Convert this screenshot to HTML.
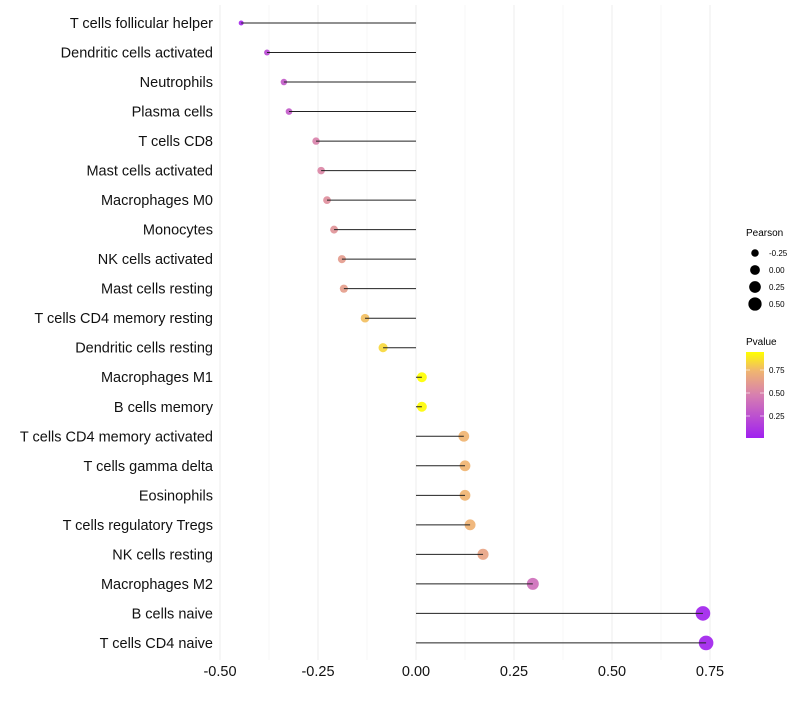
<!DOCTYPE html>
<html><head><meta charset="utf-8"><style>
body{margin:0;background:#fff}
svg text{font-family:"Liberation Sans",sans-serif}
</style></head><body>
<svg id="c" width="800" height="700">
<defs><linearGradient id="pg" x1="0" y1="1" x2="0" y2="0">
<stop offset="0" stop-color="#a020f0"/><stop offset="0.5" stop-color="#d77fb0"/><stop offset="0.78" stop-color="#f0b570"/><stop offset="1" stop-color="#ffff00"/>
</linearGradient></defs>
<g id="grid"></g><g id="marks"></g><g id="labels"></g><g id="xaxis"></g>
<g>
<text x="746" y="236" font-size="10">Pearson</text>
<g id="sizeleg"></g>
</g>
<g>
<text x="746" y="345" font-size="10">Pvalue</text>
<rect x="746" y="352" width="18" height="86" fill="url(#pg)"/>
<g id="colleg"></g>
</g>
</svg>
<script>
const categories=["T cells follicular helper","Dendritic cells activated","Neutrophils","Plasma cells","T cells CD8","Mast cells activated","Macrophages M0","Monocytes","NK cells activated","Mast cells resting","T cells CD4 memory resting","Dendritic cells resting","Macrophages M1","B cells memory","T cells CD4 memory activated","T cells gamma delta","Eosinophils","T cells regulatory  Tregs ","NK cells resting","Macrophages M2","B cells naive","T cells CD4 naive"];
const pearson=[-0.446,-0.38,-0.337,-0.324,-0.255,-0.242,-0.227,-0.209,-0.189,-0.184,-0.13,-0.084,0.015,0.015,0.122,0.125,0.125,0.138,0.171,0.298,0.732,0.74];
const pvalue=[0.05,0.22,0.3,0.3,0.5,0.52,0.56,0.58,0.62,0.63,0.77,0.84,0.95,0.94,0.74,0.74,0.74,0.73,0.66,0.4,0.03,0.03];
const xTicks=[-0.5,-0.25,0,0.25,0.5,0.75];
const xTickLabels=["-0.50","-0.25","0.00","0.25","0.50","0.75"];
const sizeLegend=[-0.25,0,0.25,0.5];
const sizeLegendLabels=["-0.25","0.00","0.25","0.50"];
const colLegend=[0.75,0.5,0.25];

const ns="http://www.w3.org/2000/svg";
const X=v=>416+v*392;
const Y=i=>23+i*29.52;
const R=v=>Math.sqrt(Math.max(2.5,24+40*v));
const PY=p=>370+(0.75-p)*92;
function col(p){
  const t=Math.max(0,Math.min(1,(p-0.01)/0.94));
  const st=[[0,[160,32,240]],[0.5,[215,127,176]],[0.78,[240,181,112]],[1,[255,255,0]]];
  for(let k=1;k<st.length;k++){if(t<=st[k][0]){const a=st[k-1],b=st[k];const f=(t-a[0])/(b[0]-a[0]);
    return "rgb("+a[1].map((c,j)=>Math.round(c+(b[1][j]-c)*f)).join(",")+")";}}
  return "rgb(255,255,0)";
}
function mk(tag,attrs,parent){const e=document.createElementNS(ns,tag);for(const k in attrs)e.setAttribute(k,attrs[k]);parent.appendChild(e);return e;}
const grid=document.getElementById('grid'),marks=document.getElementById('marks'),labels=document.getElementById('labels'),xa=document.getElementById('xaxis');
for(let i=0;i<xTicks.length;i++){
  const g=mk('line',{x1:X(xTicks[i]),x2:X(xTicks[i]),y1:5,y2:660,stroke:'#efefef','stroke-width':1.1},grid);
  
  
  if(i<xTicks.length-1){const m=(xTicks[i]+xTicks[i+1])/2;
    const g2=mk('line',{x1:X(m),x2:X(m),y1:5,y2:660,stroke:'#f5f5f5','stroke-width':0.8},grid);
    
    }
  const t=mk('text',{x:X(xTicks[i]),y:676,'font-size':14.5,'text-anchor':'middle',fill:'#111'},xa);
  t.textContent=xTickLabels[i];
  
  
}
categories.forEach((c,i)=>{
  const d=mk('circle',{cx:X(pearson[i]),cy:Y(i),r:R(pearson[i]),fill:col(pvalue[i]),'fill-opacity':0.92},marks);
  
  
  const l=mk('line',{x1:X(0),x2:X(pearson[i]),y1:Y(i),y2:Y(i),stroke:'#222','stroke-width':1},marks);
  
  
  const t=mk('text',{x:213,y:Y(i)+5,'font-size':14.5,'text-anchor':'end',fill:'#111'},labels);
  t.textContent=c;
  
  
});
const sl=document.getElementById('sizeleg');
sizeLegend.forEach((v,i)=>{
  const y=253+i*17;
  const d=mk('circle',{cx:755,cy:y,r:R(v),fill:'#000'},sl);
  
  
  const t=mk('text',{x:769,y:y+3,'font-size':8},sl);
  t.textContent=sizeLegendLabels[i];
  
  
});
const cl=document.getElementById('colleg');
colLegend.forEach(p=>{
  const y=PY(p);
  mk('line',{x1:746,x2:750,y1:y,y2:y,stroke:'#fff','stroke-width':0.6},cl);
  mk('line',{x1:760,x2:764,y1:y,y2:y,stroke:'#fff','stroke-width':0.6},cl);
  const t=mk('text',{x:769,y:y+3,'font-size':8},cl);
  t.textContent=p.toFixed(2);
  
  
});
</script>
</body></html>
